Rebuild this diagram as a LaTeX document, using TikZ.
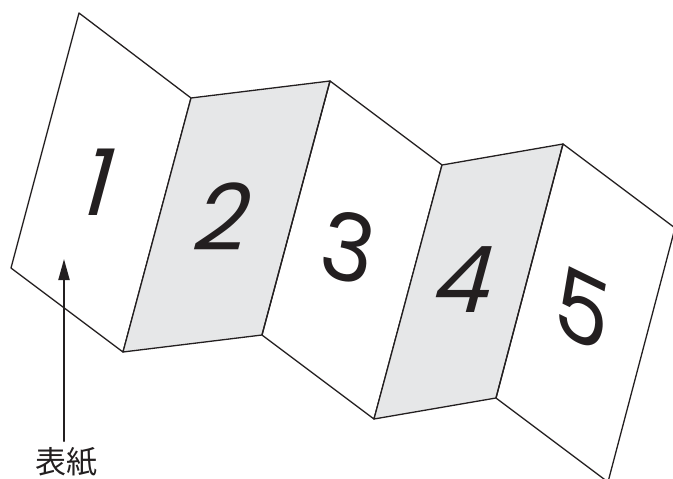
\documentclass[tikz,border=0pt]{standalone}
\usepackage{fontspec}
\newfontfamily\cjk{Noto Sans CJK JP}
\newfontfamily\digitfont{Poppins}
\usetikzlibrary{arrows.meta}
\definecolor{edge}{HTML}{231F20}
\definecolor{pagegray}{HTML}{E6E7E8}
\begin{document}
\begin{tikzpicture}[x=1pt,y=-1pt,line join=round,line cap=round]
			\tikzset{panel/.style={draw=edge,line width=1.3pt},
				grayp/.style={panel,fill=pagegray},
				pagenum/.style={font=\digitfont\fontsize{92}{92}\selectfont,text=edge,inner sep=0pt,xslant=0.27}}
			\useasboundingbox (0,0) rectangle (673,479);
			\clip (0,0) rectangle (673,479);
			% Các đỉnh trên và dưới của tờ gấp
			\foreach \i/\tx/\ty/\bx/\by in {0/79/13/11/268,1/191/98/123/352,2/330/81/262/335,
				3/442/165/374/419,4/563/144/496/398,5/675/228/608/482}{
				\coordinate (t\i) at (\tx,\ty);
				\coordinate (b\i) at (\bx,\by);
			}
			% Các trang
			\draw[panel] (t0)--(t1)--(b1)--(b0)--cycle;
			\draw[grayp] (t1)--(t2)--(b2)--(b1)--cycle;
			\draw[panel] (t2)--(t3)--(b3)--(b2)--cycle;
			\draw[grayp] (t3)--(t4)--(b4)--(b3)--cycle;
			\draw[panel] (t4)--(t5)--(b5)--(b4)--cycle;
			% Số trang
			\node[pagenum] (n1) at (100,182) {1};
			\node[pagenum] (n2) at (225,217) {2};
			\node[pagenum,xslant=-0.1,yslant=-0.2] (n3) at (348,247) {3};
			\node[pagenum] (n4) at (466,280) {4};
			\node[pagenum,xslant=-0.1,yslant=-0.45] (n5) at (583,309) {5};
			% Mũi tên chỉ bìa
			\node[font=\cjk\fontsize{31}{31}\selectfont,text=edge,inner sep=0pt] (cover) at (66,462) {表紙};
			\coordinate (tip) at (64,259);
			\draw[edge,line width=2pt,-{Triangle[length=21pt,width=11pt]}] (tip |- cover.north) ++(0,-6) -- (tip);
		\end{tikzpicture}
\end{document}
